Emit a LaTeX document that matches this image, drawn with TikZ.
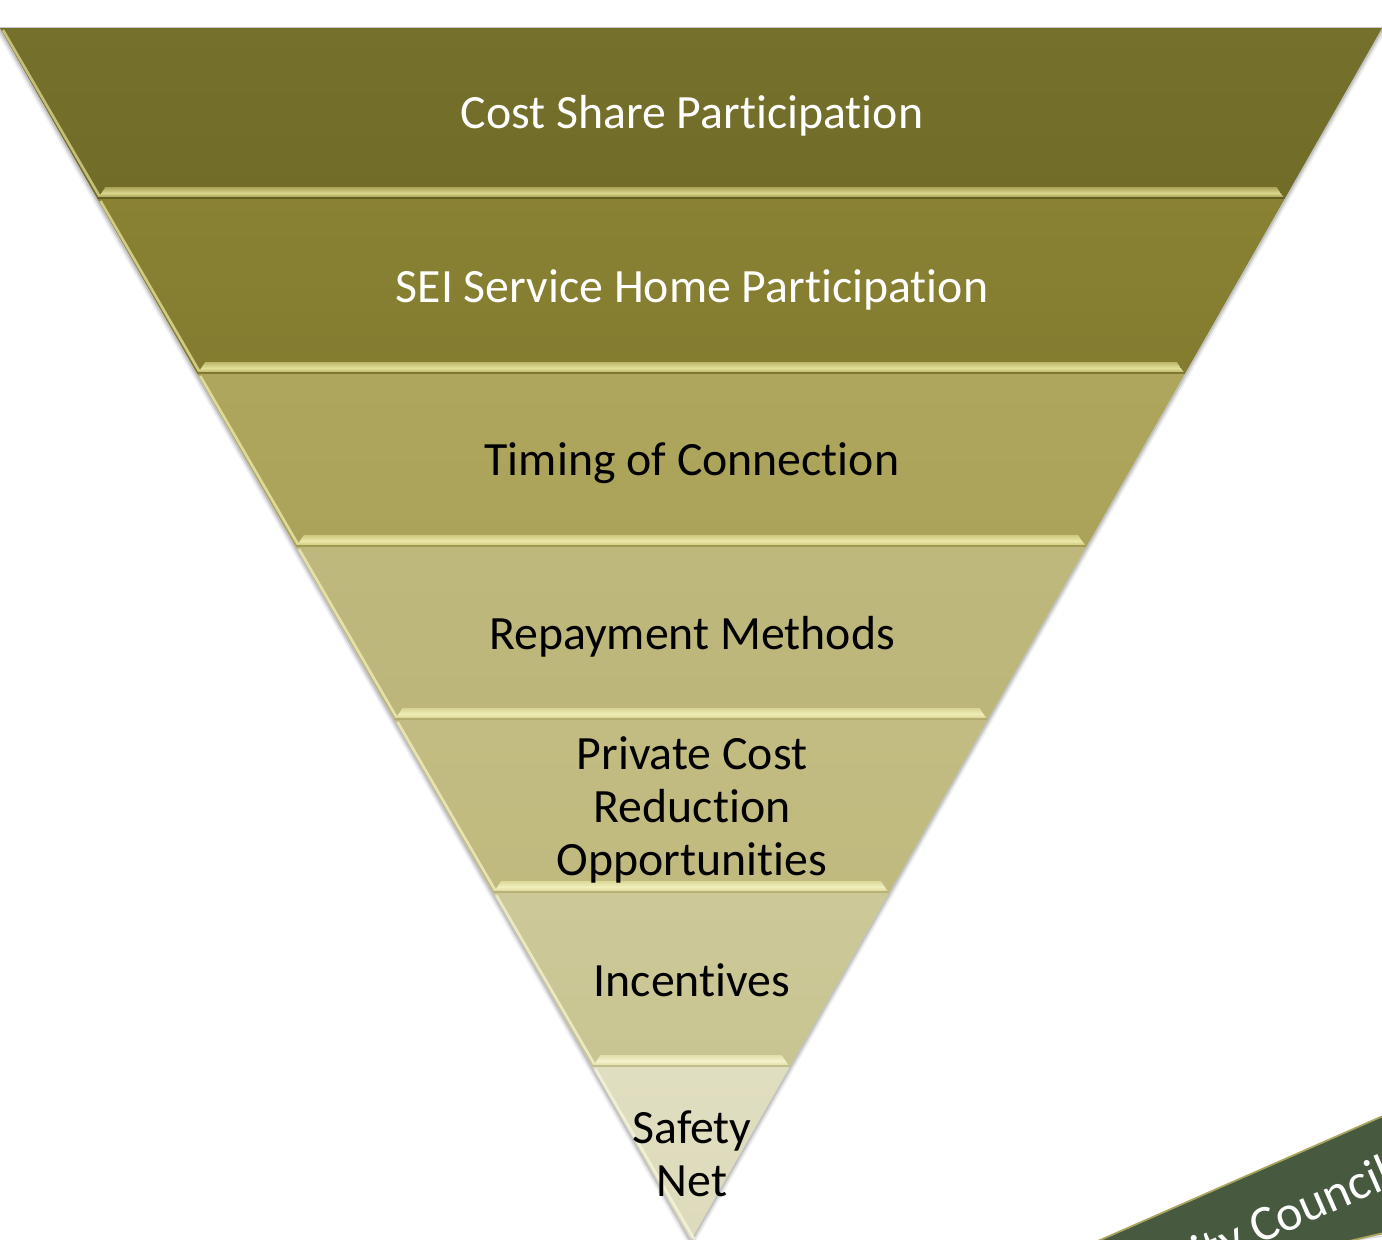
\documentclass[tikz,border=0pt]{standalone}
\usepackage{fontspec}
\setmainfont[Ligatures=NoCommon,Contextuals=NoAlternate]{Carlito}
\begin{document}
\begin{tikzpicture}[x=0.5pt,y=-0.5pt,
  lab/.style={font=\fontsize{23.9}{26.5}\selectfont,align=center,inner sep=0pt,text=black},
  labw/.style={lab,text=white}]
\useasboundingbox (0,0) rectangle (1382,1239);
\clip (0,0) rectangle (1382,1239);
\fill[white] (0,0) rectangle (1382,1239);
% soft shadow round the funnel
\foreach \w/\o in {9/0.05,6/0.08,3/0.12}{
  \draw[black,opacity=\o,line width=\w*0.5pt,line join=miter] (0,29) -- (691,1241) -- (1382,29);
}
\draw[line width=0.75pt,color=gray!45] (0,27.5) -- (1382,27.5);
% layers: top y / bottom y / fill / foot fill / band top / band middle / band edge
\foreach \ya/\yb/\cf/\cg/\bt/\bm/\be in {
  28/199/75702B/716C28/A9A357/D9D58C/635F22,
  199/374/8A8232/837B2F/BDB76C/E3DF98/7E7830,
  374/547/AEA65C/ABA359/CFCA80/EBE8A8/A09950,
  547/720/BEB87D/BCB67A/D8D492/EFEDB4/B2AC70,
  720/893/C2BC82/C0BA7F/DCD89A/F1EFBC/B8B278,
  893/1067/CCC898/C9C592/E2DFAC/F3F2CC/C2BE8C,
  1067/1240/E0DEC0/DDDBBB/E8E6CC/F6F5DC/D2D0AC}{
  \definecolor{cf}{HTML}{\cf}\definecolor{cg}{HTML}{\cg}
  \definecolor{bt}{HTML}{\bt}\definecolor{bm}{HTML}{\bm}\definecolor{be}{HTML}{\be}
  \pgfmathsetmacro\xa{(\ya-28)*0.5702}
  \pgfmathsetmacro\xb{(\yb-28)*0.5702}
  \pgfmathsetmacro\xc{1382-\xa}
  \pgfmathsetmacro\xd{1382-\xb}
  \shade[top color=cf,bottom color=cg] (\xa,\ya) -- (\xc,\ya) -- (\xd,\yb) -- (\xb,\yb) -- cycle;
  % light left edge
  \pgfmathsetmacro\xe{\xa+3}
  \pgfmathsetmacro\xf{\xb+3}
  \draw[color=bm,line width=1.3pt,opacity=0.8] (\xe,\ya+2) -- (\xf,\yb-1);
  % bevel band at the foot of the layer (not for the apex)
  \ifnum\yb<1200
    \pgfmathsetmacro\yt{\yb-12}
    \pgfmathsetmacro\xt{\xb+8}
    \pgfmathsetmacro\xu{\xd-8}
    \pgfmathsetmacro\ym{\yb-6}
    \pgfmathsetmacro\yn{\yb-2}
    \shade[top color=bt,bottom color=bm] (\xt,\yt) -- (\xu,\yt) -- (\xd-4,\ym) -- (\xb+4,\ym) -- cycle;
    \shade[top color=bm,bottom color=bt] (\xb+4,\ym) -- (\xd-4,\ym) -- (\xd-1,\yn) -- (\xb+1,\yn) -- cycle;
    \fill[be] (\xb+1,\yn) -- (\xd-1,\yn) -- (\xd,\yb) -- (\xb,\yb) -- cycle;
  \fi
}
% labels
\node[labw] (cost) at (692,116) {Cost Share Participation};
\node[labw] (sei) at (692,290) {SEI Service Home Participation};
\node[lab] (timing) at (692,463) {Timing of Connection};
\node[lab] (repay) at (692,637) {Repayment Methods};
\node[lab] (private) at (692,810) {Private Cost\\Reduction\\Opportunities};
\node[lab] (incent) at (692,980) {Incentives};
\node[lab] (safety) at (692,1154) {Safety\\Net};
% banner
\definecolor{bannerfill}{HTML}{475A40}
\definecolor{bannerline}{HTML}{A9A55F}
\fill[black,opacity=0.12] (1100,1242) -- (1390,1116) -- (1390,1236) -- (1340,1243) -- cycle;
\filldraw[fill=bannerfill,draw=bannerline,line width=0.9pt] (1098,1241) -- (1392,1112) -- (1392,1231) -- (1341,1243) -- cycle;
\node[font=\fontsize{25}{28}\selectfont,text=white,rotate=23.6,inner sep=0pt,anchor=base west] (banner) at (1201,1270) {ity Council};
\end{tikzpicture}
\end{document}
